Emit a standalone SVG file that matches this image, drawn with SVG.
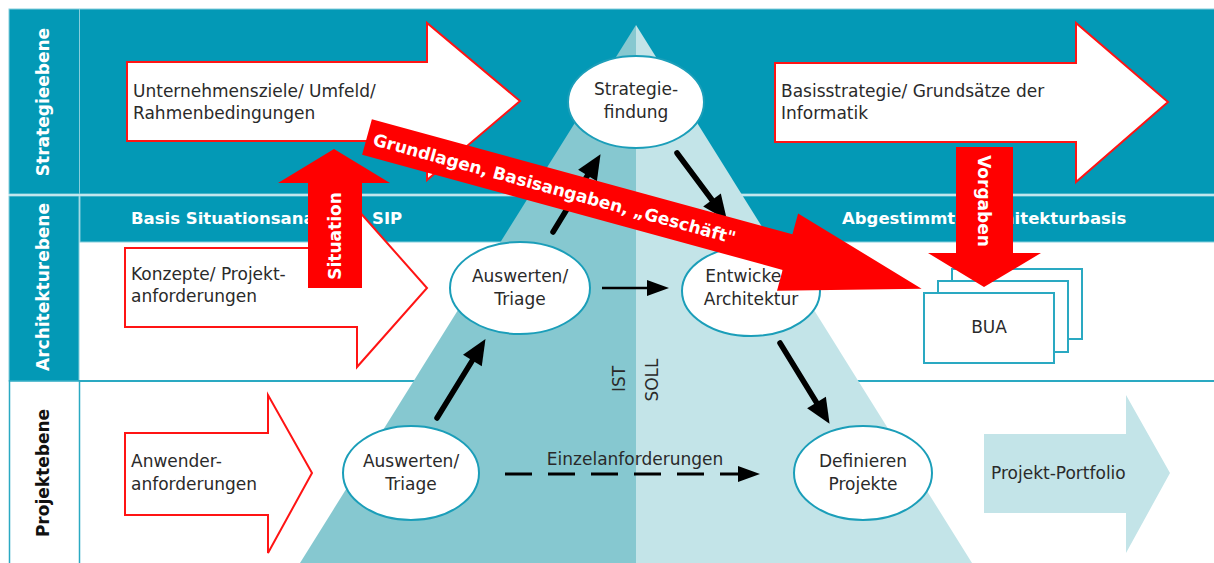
<svg xmlns="http://www.w3.org/2000/svg" width="1214" height="563" viewBox="0 0 1214 563">
  <style>
    .band { fill: #0399B6; stroke: #86CEDC; stroke-width: 1; }
    .lbl { font-family: "DejaVu Sans", Verdana, sans-serif; font-size: 17px; fill: #2a2a2a; }
    .bold { font-family: "DejaVu Sans", Verdana, sans-serif; font-weight: bold; font-size: 17px; fill: #ffffff; }
    .hdr { font-family: "DejaVu Sans", Verdana, sans-serif; font-weight: bold; font-size: 16.5px; fill: #ffffff; }
    .inbox { fill: #ffffff; stroke: #FF1414; stroke-width: 2; stroke-linejoin: miter; }
    .red { fill: #FF0000; }
    .node { fill: #ffffff; stroke: #1B9EB9; stroke-width: 2; }
    .card { fill: #ffffff; stroke: #2AA9C2; stroke-width: 2; }
    .ctr { text-anchor: middle; }
    .thick { fill: none; stroke: #000; stroke-width: 5.5; stroke-linecap: round; }
    .thin { fill: none; stroke: #000; stroke-width: 2.5; }
    .dash { fill: none; stroke: #000; stroke-width: 3; stroke-dasharray: 27 16; }
  </style>
  <defs>
    <marker id="head-lg" markerUnits="userSpaceOnUse" markerWidth="26" markerHeight="22" refX="0" refY="11" orient="auto" overflow="visible">
      <path d="M0,0 L25,11 L0,22 Z" fill="#000"/>
    </marker>
    <marker id="head-sm" markerUnits="userSpaceOnUse" markerWidth="22" markerHeight="16" refX="0" refY="8" orient="auto" overflow="visible">
      <path d="M0,0 L22,8 L0,16 Z" fill="#000"/>
    </marker>
  </defs>

  <rect width="1214" height="563" fill="#ffffff"/>

  <!-- level bands -->
  <g id="bands">
    <rect class="band" x="9" y="9" width="1206" height="185"/>
    <line x1="79.5" y1="9" x2="79.5" y2="194" stroke="#86CEDC" stroke-width="1"/>
    <rect class="band" x="9" y="196" width="70" height="185"/>
    <rect class="band" x="80" y="196" width="1135" height="46"/>
    <line x1="9" y1="381" x2="1214" y2="381" stroke="#2AA9C2" stroke-width="2"/>
    <rect x="9.5" y="381" width="70" height="190" fill="#ffffff" stroke="#2AA9C2" stroke-width="1.5"/>
  </g>

  <g id="level-labels">
    <text class="bold ctr" transform="translate(49,102) rotate(-90)">Strategieebene</text>
    <text class="bold ctr" transform="translate(49,287) rotate(-90)">Architekturebene</text>
    <text class="bold ctr" transform="translate(49,473) rotate(-90)" fill="#111" style="fill:#111">Projektebene</text>
  </g>

  <!-- IST / SOLL pyramid -->
  <g id="pyramid">
    <polygon points="636,25 636,563 300,563" fill="#86C8D0"/>
    <polygon points="636,25 972,563 636,563" fill="#C3E4E8"/>
    <text class="lbl ctr" transform="translate(625,379) rotate(-90)">IST</text>
    <text class="lbl ctr" transform="translate(658,380) rotate(-90)">SOLL</text>
  </g>

  <g id="header-labels">
    <text class="hdr" x="131" y="223.5">Basis Situationsanalyse</text>
    <text class="hdr" x="372" y="223.5">SIP</text>
    <text class="hdr" x="842" y="223.5">Abgestimmte Architekturbasis</text>
  </g>

  <!-- input / output block arrows -->
  <g id="unternehmensziele">
    <path class="inbox" d="M127,62 H427 V23 L520,101 L427,180 V141 H127 Z"/>
    <text class="lbl" x="133" y="97">Unternehmensziele/ Umfeld/</text>
    <text class="lbl" x="133" y="119">Rahmenbedingungen</text>
  </g>
  <g id="basisstrategie">
    <path class="inbox" d="M775,63 H1076 V23 L1168,102 L1076,182 V142 H775 Z"/>
    <text class="lbl" x="781" y="97">Basisstrategie/ Grundsätze der</text>
    <text class="lbl" x="781" y="119">Informatik</text>
  </g>
  <g id="konzepte">
    <path class="inbox" d="M125,248 H357 V209 L427,288 L357,367 V327 H125 Z"/>
    <text class="lbl" x="131" y="280">Konzepte/ Projekt-</text>
    <text class="lbl" x="131" y="302">anforderungen</text>
  </g>
  <g id="anwender">
    <path class="inbox" d="M125,433 H268 V395 L312,473 L268,553 V515 H125 Z"/>
    <text class="lbl" x="131" y="467">Anwender-</text>
    <text class="lbl" x="131" y="490">anforderungen</text>
  </g>
  <g id="portfolio">
    <path d="M984,434 H1126 V395 L1170,473 L1126,553 V513 H984 Z" fill="#C3E4E8"/>
    <text class="lbl" x="991" y="479">Projekt-Portfolio</text>
  </g>

  <!-- connectors -->
  <g id="connectors">
    <path class="thick" d="M437,418 L472.4,360.4" marker-end="url(#head-lg)"/>
    <path class="thick" d="M553,232 L587.5,175.5" marker-end="url(#head-lg)"/>
    <path class="thick" d="M677,153 L712,200" marker-end="url(#head-lg)"/>
    <path class="thick" d="M780,343 L816.5,402.5" marker-end="url(#head-lg)"/>
    <path class="thin" d="M602,288 H647" marker-end="url(#head-sm)"/>
    <path class="dash" d="M505,474 H738" marker-end="url(#head-sm)"/>
    <text class="lbl ctr" x="635" y="465">Einzelanforderungen</text>
  </g>

  <!-- process nodes -->
  <g id="strategiefindung">
    <ellipse class="node" cx="636" cy="102" rx="68" ry="46"/>
    <text class="lbl ctr" x="636" y="95">Strategie-</text>
    <text class="lbl ctr" x="636" y="118">findung</text>
  </g>
  <g id="auswerten-architektur">
    <ellipse class="node" cx="520" cy="288" rx="70" ry="46"/>
    <text class="lbl ctr" x="520" y="282">Auswerten/</text>
    <text class="lbl ctr" x="520" y="305">Triage</text>
  </g>
  <g id="entwickeln">
    <ellipse class="node" cx="751" cy="291" rx="69" ry="45"/>
    <text class="lbl ctr" x="751" y="282">Entwickeln</text>
    <text class="lbl ctr" x="751" y="305">Architektur</text>
  </g>
  <g id="auswerten-projekt">
    <ellipse class="node" cx="411" cy="473" rx="68" ry="47"/>
    <text class="lbl ctr" x="411" y="467">Auswerten/</text>
    <text class="lbl ctr" x="411" y="490">Triage</text>
  </g>
  <g id="definieren">
    <ellipse class="node" cx="863" cy="473" rx="69" ry="47"/>
    <text class="lbl ctr" x="863" y="467">Definieren</text>
    <text class="lbl ctr" x="863" y="490">Projekte</text>
  </g>
  <g id="bua">
    <rect class="card" x="952" y="269" width="130" height="70"/>
    <rect class="card" x="938" y="281" width="130" height="71"/>
    <rect class="card" x="924" y="293" width="130" height="70"/>
    <text class="lbl ctr" x="989" y="333">BUA</text>
  </g>

  <!-- red flow arrows -->
  <g id="situation">
    <path class="red" d="M308,288 V183 H278 L334,149 L390,183 H362 V288 Z"/>
    <text class="bold ctr" transform="translate(341,236) rotate(-90)">Situation</text>
  </g>
  <g id="vorgaben">
    <path class="red" d="M956,147 H1013 V253 H1041 L984,287 L928,253 H956 Z"/>
    <text class="bold ctr" transform="translate(978,201) rotate(90)">Vorgaben</text>
  </g>
  <g id="grundlagen" transform="translate(367,137) rotate(15.3)">
    <polygon class="red" points="0,-18.5 436,-18.5 436,-40 575,0 436,40 436,18.5 0,18.5"/>
    <text class="bold" x="7" y="6.3" font-size="17.5">Grundlagen, Basisangaben, „Geschäft"</text>
  </g>
</svg>
